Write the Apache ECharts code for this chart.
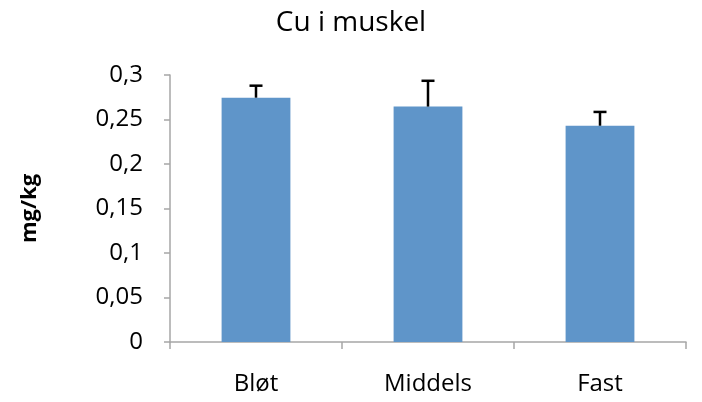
<!DOCTYPE html>
<html><head><meta charset="utf-8">
<script src="https://cdn.jsdelivr.net/npm/echarts@6/dist/echarts.min.js"></script>
<style>html,body{margin:0;padding:0;background:#fff}#c{width:702px;height:402px}</style>
</head><body><div id="c"></div>
<script>
const categories = ['Bløt', 'Middels', 'Fast'];
const values = [0.2745, 0.2645, 0.243];
const errorTops = [0.288, 0.2935, 0.2585];
const yTicks = [0, 0.05, 0.1, 0.15, 0.2, 0.25, 0.3];

const chart = echarts.init(document.getElementById('c'));
const font = "'Open Sans', 'Liberation Sans', sans-serif";
chart.setOption({
  animation: false,
  title: { text: 'Cu i muskel', left: 'center', top: 4, textStyle: { fontFamily: font, fontSize: 28, fontWeight: 'normal', color: '#000' } },
  grid: { left: 170, right: 16, top: 75, bottom: 60 },
  xAxis: {
    type: 'category', data: categories,
    axisLine: { lineStyle: { color: '#a6a6a6', width: 1.5 } },
    axisTick: { show: true, length: 7, lineStyle: { color: '#a6a6a6', width: 1.5 } },
    axisLabel: { margin: 30, fontFamily: font, fontSize: 24, color: '#000' }
  },
  yAxis: {
    type: 'value', min: yTicks[0], max: yTicks[yTicks.length - 1], interval: 0.05,
    name: 'mg/kg', nameLocation: 'middle', nameGap: 129, nameRotate: 90,
    nameTextStyle: { fontFamily: font, fontSize: 22, fontWeight: 'bold', color: '#000' },
    axisLine: { show: true, lineStyle: { color: '#a6a6a6', width: 1.5 } },
    axisTick: { show: true, length: 6, inside: false, lineStyle: { color: '#a6a6a6', width: 1.5 } },
    splitLine: { show: false },
    axisLabel: { margin: 27, fontFamily: font, fontSize: 24, color: '#000',
      formatter: v => String(+v.toFixed(2)).replace('.', ',') }
  },
  series: [
    { type: 'bar', data: values, barWidth: '40%', itemStyle: { color: '#5f95c9' } },
    { type: 'custom', data: categories.map((c, i) => [i, values[i], errorTops[i]]),
      renderItem: function (params, api) {
        const lo = api.coord([api.value(0), api.value(1)]);
        const hi = api.coord([api.value(0), api.value(2)]);
        const hw = 6.5;
        return { type: 'group', children: [
          { type: 'line', shape: { x1: lo[0], y1: lo[1], x2: hi[0], y2: hi[1] }, style: { stroke: '#000', lineWidth: 2.5 } },
          { type: 'line', shape: { x1: hi[0] - hw, y1: hi[1], x2: hi[0] + hw, y2: hi[1] }, style: { stroke: '#000', lineWidth: 2.5 } }
        ] };
      }, z: 10 }
  ]
});
</script></body></html>
